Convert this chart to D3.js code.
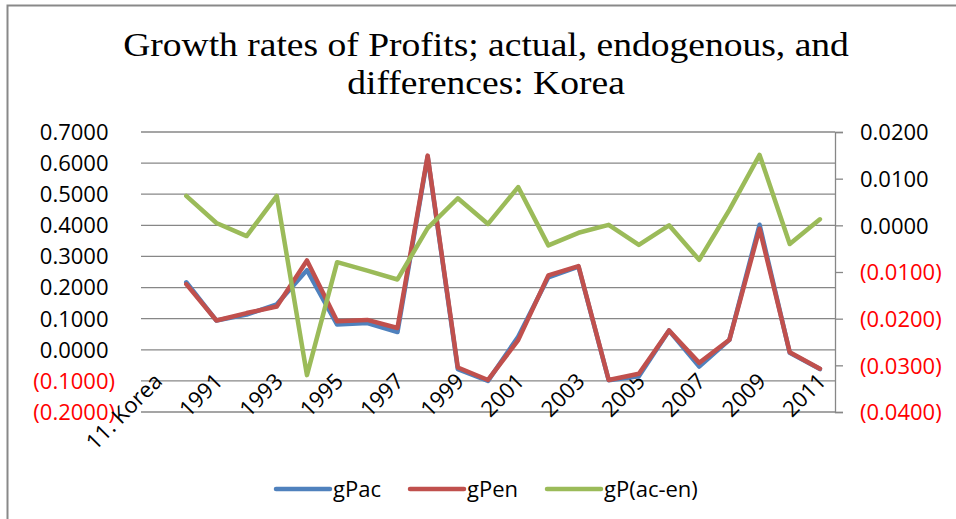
<!DOCTYPE html>
<html>
<head>
<meta charset="utf-8">
<script src="https://cdn.jsdelivr.net/npm/d3@7"></script>
<style>
  body { margin: 0; background: #fff; }
</style>
</head>
<body>
<script>
// categories: first slot is the sheet label, then the years
var categories = ['11. Korea', '1990', '1991', '1992', '1993', '1994', '1995', '1996', '1997', '1998', '1999',
  '2000', '2001', '2002', '2003', '2004', '2005', '2006', '2007', '2008', '2009', '2010', '2011'];
var years = categories.slice(1);

var gPac = [0.217, 0.094, 0.113, 0.146, 0.256, 0.081, 0.086, 0.057, 0.621, -0.062, -0.100,
  0.042, 0.233, 0.267, -0.098, -0.085, 0.062, -0.054, 0.032, 0.402, -0.010, -0.062];
var gPen = [0.211, 0.094, 0.118, 0.139, 0.287, 0.092, 0.096, 0.070, 0.624, -0.057, -0.097,
  0.031, 0.239, 0.269, -0.097, -0.077, 0.062, -0.042, 0.032, 0.389, -0.008, -0.061];
var gPdiff = [0.0063, 0.0005, -0.0023, 0.0063, -0.0321, -0.0079, -0.0097, -0.0116, -0.0006, 0.0058, 0.0003,
  0.0082, -0.0043, -0.0016, 0.0001, -0.0042, 0.0000, -0.0074, 0.0033, 0.0151, -0.0040, 0.0013];

var leftTicks = [0.7, 0.6, 0.5, 0.4, 0.3, 0.2, 0.1, 0.0, -0.1, -0.2];
var rightTicks = [0.02, 0.01, 0.0, -0.01, -0.02, -0.03, -0.04];
var seriesNames = ['gPac', 'gPen', 'gP(ac-en)'];
var seriesColors = ['#4F81BD', '#C0504D', '#9BBB59'];

var W = 956, H = 519;
var margin = {top: 132, left: 141, right: 835, bottom: 412};
var axisFont = "'Open Sans', 'Noto Sans', sans-serif";

var svg = d3.select('body')
  .append('svg')
  .attr('width', W)
  .attr('height', H)
  .attr('id', 'chart');

// outer chart frame (runs off the right and bottom of the picture)
svg.append('rect')
  .attr('x', 7.5)
  .attr('y', 5.5)
  .attr('width', W + 20)
  .attr('height', H + 20)
  .attr('fill', 'none')
  .attr('stroke', '#898989')
  .attr('stroke-width', 2);

var x = d3.scaleBand()
  .domain(categories)
  .range([margin.left, margin.right]);

var y = d3.scaleLinear()
  .domain([-0.2, 0.7])
  .range([margin.bottom, margin.top]);

var y2 = d3.scaleLinear()
  .domain([-0.04, 0.02])
  .range([margin.bottom, margin.top]);

function fmt(v) {
  var s = Math.abs(v).toFixed(4);
  return v < -1e-9 ? '(' + s + ')' : s;
}

// gridlines from the left axis
svg.append('g')
  .selectAll('line')
  .data(leftTicks)
  .enter()
    .append('line')
    .attr('x1', margin.left)
    .attr('x2', margin.right)
    .attr('y1', d => y(d))
    .attr('y2', d => y(d))
    .attr('stroke', '#878787')
    .attr('stroke-width', 1.3);

// left axis labels, positives leave room for the ")" like the accounting format
var probe = svg.append('text').attr('font-family', axisFont).attr('font-size', '22px').text(')');
var parenW = probe.node().getComputedTextLength();
probe.remove();

svg.append('g')
  .selectAll('text')
  .data(leftTicks)
  .enter()
    .append('text')
    .attr('x', d => d < -1e-9 ? 115 : 115 - parenW)
    .attr('y', d => y(d))
    .attr('dy', '0.36em')
    .attr('text-anchor', 'end')
    .attr('font-family', axisFont)
    .attr('font-size', '22px')
    .attr('fill', d => d < -1e-9 ? '#FF0000' : '#000')
    .text(fmt);

// right axis
var rightAxis = svg.append('g')
  .attr('transform', `translate(${margin.right},0)`)
  .call(d3.axisRight(y2).tickValues(rightTicks).tickSize(8).tickPadding(17).tickFormat(fmt));
rightAxis.select('.domain').attr('stroke', '#878787').attr('stroke-width', 1.3);
rightAxis.selectAll('.tick line').attr('stroke', '#878787').attr('stroke-width', 1.3);
rightAxis.selectAll('.tick text')
  .attr('font-family', axisFont)
  .attr('font-size', '22px')
  .attr('dy', '0.36em')
  .attr('fill', d => d < -1e-9 ? '#FF0000' : '#000');

// category labels, every other one
svg.append('g')
  .selectAll('text')
  .data(categories.filter((d, i) => i % 2 === 0))
  .enter()
    .append('text')
    .attr('transform', d => `translate(${x(d) + x.bandwidth() / 2 + 2},${377}) rotate(-45)`)
    .attr('text-anchor', 'end')
    .attr('dy', '0.36em')
    .attr('font-family', axisFont)
    .attr('font-size', '22px')
    .attr('fill', '#000')
    .text(d => d);

// lines
var cx = d => x(d) + x.bandwidth() / 2;
var line1 = d3.line().x((d, i) => cx(years[i])).y(d => y(d));
var line2 = d3.line().x((d, i) => cx(years[i])).y(d => y2(d));

var seriesData = [gPac, gPen];
svg.append('g')
  .selectAll('path')
  .data(seriesData)
  .enter()
    .append('path')
    .attr('d', line1)
    .attr('fill', 'none')
    .attr('stroke', (d, i) => seriesColors[i])
    .attr('stroke-width', 4.5)
    .attr('stroke-linejoin', 'round')
    .attr('stroke-linecap', 'round');

svg.append('path')
  .datum(gPdiff)
  .attr('d', line2)
  .attr('fill', 'none')
  .attr('stroke', seriesColors[2])
  .attr('stroke-width', 4.5)
  .attr('stroke-linejoin', 'round')
  .attr('stroke-linecap', 'round');

// title (the source font is drawn a bit wide, so stretch it sideways)
let title = svg.append('text')
  .attr('transform', 'translate(486,0) scale(1.138,1)')
  .attr('text-anchor', 'middle')
  .attr('font-family', "'Liberation Serif', 'Times New Roman', serif")
  .attr('font-size', '33px')
  .attr('fill', '#000');
title.append('tspan').attr('x', 0).attr('y', 56).text('Growth rates of Profits; actual, endogenous, and');
title.append('tspan').attr('x', 0).attr('y', 94).text('differences: Korea');

// legend
var legendX = [276, 410, 547];
var legend = svg.append('g')
  .selectAll('g')
  .data(seriesNames)
  .enter()
    .append('g')
    .attr('transform', (d, i) => `translate(${legendX[i]},489)`);
legend.append('line')
  .attr('x1', 0)
  .attr('x2', 54)
  .attr('stroke', (d, i) => seriesColors[i])
  .attr('stroke-width', 4.5)
  .attr('stroke-linecap', 'round');
legend.append('text')
  .attr('x', 57)
  .attr('dy', '0.36em')
  .attr('font-family', axisFont)
  .attr('font-size', '22px')
  .attr('fill', '#000')
  .text(d => d);
</script>
</body>
</html>
